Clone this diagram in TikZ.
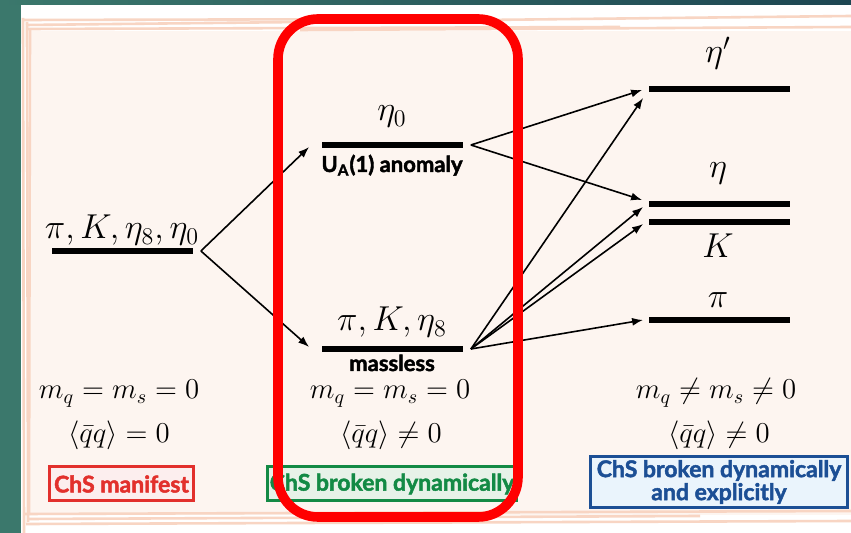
\documentclass[tikz,border=0pt]{standalone}
\usepackage{fontspec}
\newfontfamily\tagfont{Lato}[BoldFeatures={FakeBold=2}]
\usetikzlibrary{arrows.meta,calc,positioning}
\definecolor{tealCol}{HTML}{3B786C}
\definecolor{tealDark}{HTML}{1D4652}
\definecolor{paperCol}{HTML}{FDF5F0}
\definecolor{sketchCol}{HTML}{F8D5C3}
\definecolor{ringCol}{HTML}{FF0000}
\definecolor{manCol}{HTML}{E2302C}
\definecolor{manFill}{HTML}{FCEEEE}
\definecolor{dynCol}{HTML}{138A45}
\definecolor{dynFill}{HTML}{E7F2E8}
\definecolor{expCol}{HTML}{1C4F95}
\definecolor{expFill}{HTML}{EAF4FC}
\tikzset{
  lvl/.style={fill=black, inner sep=0pt, minimum width=70.5pt, minimum height=2.6pt},
  mlab/.style={anchor=base, inner sep=0pt, font=\fontsize{16.5}{19}\selectfont},
  cond/.style={anchor=base, inner sep=0pt, font=\fontsize{13.7}{16}\selectfont},
  sublab/.style={anchor=base, inner sep=0pt, font=\tagfont\bfseries\fontsize{11}{13}\selectfont},
  tagbox/.style={draw=#1, text=#1, line width=1.5pt, align=center, inner sep=0pt,
                 font=\tagfont\bfseries\fontsize{11.5}{11.5}\selectfont},
  trans/.style={-{Latex[length=5.5pt,width=4pt]}, line width=0.8pt},
  sketch/.style={draw=sketchCol, line width=1.3pt},
  ring/.style={draw=ringCol, line width=4.8pt, rounded corners=20pt},
}
\begin{document}
\begin{tikzpicture}[x=0.5pt,y=-0.5pt]
  \useasboundingbox (0,0) rectangle (851,533);
  % slide background
  \fill[white] (0,0) rectangle (851,533);
  \fill[tealCol] (0,0) rectangle (21,533);
  \shade[left color=tealCol, right color=tealDark] (0,0) rectangle (851,5);
  \fill[paperCol] (29,31) rectangle (851,515);
  \draw[sketch] (24,20) -- (440,19);
  \draw[sketch] (26,25) -- (851,16);
  \draw[sketch] (28,29) -- (620,27);
  \draw[sketch] (300,30) -- (851,27);
  \draw[sketch] (23,18) -- (24,533);
  \draw[sketch] (27,22) -- (28,522);
  \draw[sketch] (30,30) -- (29,515);
  \draw[sketch] (24,514) -- (851,511);
  \draw[sketch] (28,519) -- (700,516);
  \draw[sketch] (26,524) -- (851,521);

  % levels
  \node[lvl] (l0) at (122,251) {};
  \node[lvl] (m0) at (392,145) {};
  \node[lvl] (m1) at (392,349) {};
  \node[lvl] (r0) at (719,89) {};
  \node[lvl] (r1) at (719,204) {};
  \node[lvl] (r2) at (719,222) {};
  \node[lvl] (r3) at (719,320) {};

  \node[mlab] (l0t) at (122,239) {$\pi, K, \eta_8, \eta_0$};
  \node[mlab] (m0t) at (392,121) {$\eta_0$};
  \node[sublab] (m0s) at (392,172) {U\textsubscript{A}(1) anomaly};
  \node[mlab] (m1t) at (392,331) {$\pi, K, \eta_8$};
  \node[sublab] (m1s) at (392,371) {massless};
  \node[mlab] (r0t) at (718,63) {$\eta'$};
  \node[mlab] (r1t) at (718,178) {$\eta$};
  \node[mlab] (r2t) at (718,258) {$K$};
  \node[mlab] (r3t) at (718,308) {$\pi$};

  % transitions
  \coordinate (a0) at ($(l0.east)+(8,0)$);
  \coordinate (a1) at ($(m0.east)+(8,0)$);
  \coordinate (a2) at ($(m1.east)+(8,0)$);
  \coordinate (e0) at ($(m0.west)+(-12,2)$);
  \coordinate (e1) at ($(m1.west)+(-12,-2)$);
  \coordinate (f0) at ($(r0.west)+(-6,1)$);
  \coordinate (f1) at ($(r1.west)+(-6,-4)$);
  \coordinate (g0) at ($(r0.west)+(-5,9)$);
  \coordinate (g1) at ($(r1.west)+(-5,3)$);
  \coordinate (g2) at ($(r2.west)+(-5,2)$);
  \coordinate (g3) at ($(r3.west)+(-5,0)$);
  \draw[trans] (a0) -- (e0);
  \draw[trans] (a0) -- (e1);
  \draw[trans] (a1) -- (f0);
  \draw[trans] (a1) -- (f1);
  \foreach \t in {g0,g1,g2,g3}{\draw[trans] (a2) -- (\t);}

  % conditions
  \node[cond] (c0) at (119,399) {$m_q = m_s = 0$};
  \node[cond] (c1) at (119,443) {$\langle \bar{q}q \rangle = 0$};
  \node[cond] (c2) at (390,399) {$m_q = m_s = 0$};
  \node[cond] (c3) at (391,443) {$\langle \bar{q}q \rangle \neq 0$};
  \node[cond] (c4) at (716,399) {$m_q \neq m_s \neq 0$};
  \node[cond] (c5) at (719,443) {$\langle \bar{q}q \rangle \neq 0$};

  \node[tagbox=manCol, fill=manFill, minimum width=72pt, minimum height=17pt] (k0) at (121.5,484) {ChS manifest};
  \node[tagbox=dynCol, fill=dynFill, minimum width=124.5pt, minimum height=17pt] (k1) at (392,484) {ChS broken dynamically};
  \node[tagbox=expCol, fill=expFill, minimum width=128.5pt, minimum height=25.5pt] (k2) at (719,482) {ChS broken dynamically\\and explicitly};

  \draw[ring] (278,19) rectangle (518,517);
\end{tikzpicture}
\end{document}
